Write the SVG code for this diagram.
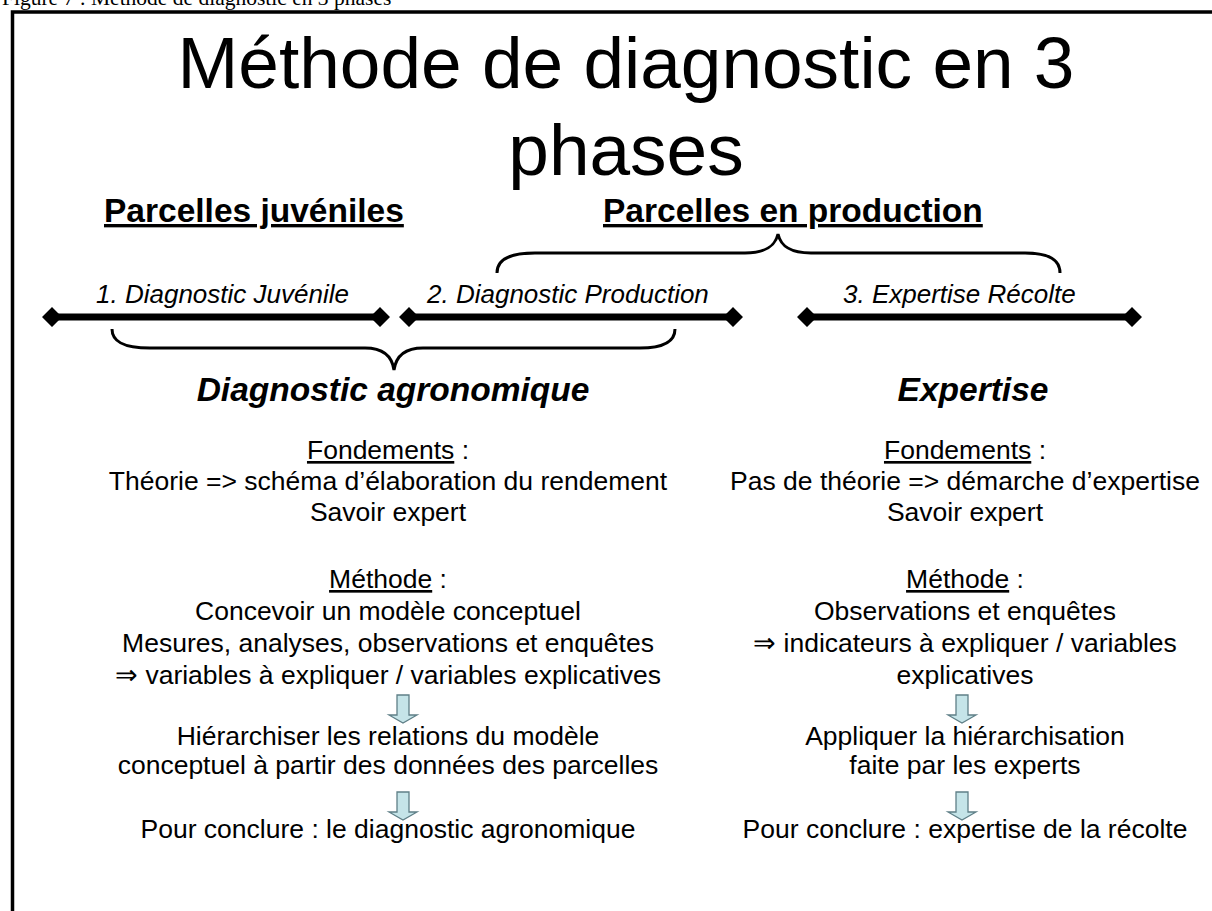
<svg xmlns="http://www.w3.org/2000/svg" width="1212" height="911" viewBox="0 0 1212 911">
<style>
text{font-family:"Liberation Sans",Arial,sans-serif;fill:#000}
.cap{font-family:"Liberation Serif","Times New Roman",serif;font-size:21.5px}
.title{font-size:73px;text-anchor:middle}
.sub{font-size:33.5px;font-weight:bold;text-decoration:underline}
.lab{font-size:26px;font-style:italic}
.big{font-size:33.5px;font-weight:bold;font-style:italic;text-anchor:middle}
.body{font-size:26.5px;text-anchor:middle}
.u{text-decoration:underline}
.brace{fill:none;stroke:#000;stroke-width:3}
.bar{stroke:#000;stroke-width:7}
.dia{fill:#000}
.arr{fill:#c5e4e8;stroke:#5f7f87;stroke-width:1.3}
</style>
<rect width="1212" height="911" fill="#fff"/>
<text class="cap" x="2" y="5">Figure 7 : Méthode de diagnostic en 3 phases</text>
<g id="frame"><path d="M12.5 911 V12 H1212" fill="none" stroke="#000" stroke-width="3.5"/></g>
<g id="title">
<text class="title" x="626" y="88">Méthode de diagnostic en 3</text>
<text class="title" x="626" y="175">phases</text>
</g>
<g id="head-juveniles"><text class="sub" x="104" y="222">Parcelles juvéniles</text></g>
<g id="head-production"><text class="sub" x="603" y="222">Parcelles en production</text></g>
<g id="connectors">
<path class="brace" d="M497 273 C497 260 508 253 535 253 L745 253 C765 253 775 247 778 234 C781 247 791 253 811 253 L1025 253 C1050 253 1060 260 1060 273"/>
<path class="brace" d="M112 329 C112 341 122 348 150 348 L365 348 C383 348 392 356 394 370 C396 356 405 348 423 348 L640 348 C665 348 675 341 675 329"/>
<line class="bar" x1="52" y1="317" x2="380" y2="317"/>
<path class="dia" d="M42 317 L52 307 L62 317 L52 327 Z M370 317 L380 307 L390 317 L380 327 Z"/>
<line class="bar" x1="409" y1="317" x2="733" y2="317"/>
<path class="dia" d="M399 317 L409 307 L419 317 L409 327 Z M723 317 L733 307 L743 317 L733 327 Z"/>
<line class="bar" x1="807" y1="317" x2="1132" y2="317"/>
<path class="dia" d="M797 317 L807 307 L817 317 L807 327 Z M1122 317 L1132 307 L1142 317 L1132 327 Z"/>
<path class="arr" d="M397 695 H409 V715 H417 L403 723 L389 715 H397 Z"/>
<path class="arr" d="M397 792 H409 V812 H417 L403 820 L389 812 H397 Z"/>
<path class="arr" d="M956 695 H968 V715 H976 L962 723 L948 715 H956 Z"/>
<path class="arr" d="M956 792 H968 V812 H976 L962 820 L948 812 H956 Z"/>
</g>
<g id="phase1"><text class="lab" x="96" y="303">1. Diagnostic Juvénile</text></g>
<g id="phase2"><text class="lab" x="427" y="303">2. Diagnostic Production</text></g>
<g id="phase3"><text class="lab" x="843" y="303">3. Expertise Récolte</text></g>
<g id="diag-agro">
<text class="big" x="393" y="401">Diagnostic agronomique</text>
<text class="body" x="388" y="459"><tspan class="u">Fondements</tspan> :</text>
<text class="body" x="388" y="490">Théorie =&gt; schéma d’élaboration du rendement</text>
<text class="body" x="388" y="521">Savoir expert</text>
<text class="body" x="388" y="588"><tspan class="u">Méthode</tspan> :</text>
<text class="body" x="388" y="620">Concevoir un modèle conceptuel</text>
<text class="body" x="388" y="652">Mesures, analyses, observations et enquêtes</text>
<text class="body" x="388" y="684">⇒ variables à expliquer / variables explicatives</text>
<text class="body" x="388" y="745">Hiérarchiser les relations du modèle</text>
<text class="body" x="388" y="774">conceptuel à partir des données des parcelles</text>
<text class="body" x="388" y="838">Pour conclure : le diagnostic agronomique</text>
</g>
<g id="expertise">
<text class="big" x="973" y="401">Expertise</text>
<text class="body" x="965" y="459"><tspan class="u">Fondements</tspan> :</text>
<text class="body" x="965" y="490">Pas de théorie =&gt; démarche d’expertise</text>
<text class="body" x="965" y="521">Savoir expert</text>
<text class="body" x="965" y="588"><tspan class="u">Méthode</tspan> :</text>
<text class="body" x="965" y="620">Observations et enquêtes</text>
<text class="body" x="965" y="652">⇒ indicateurs à expliquer / variables</text>
<text class="body" x="965" y="684">explicatives</text>
<text class="body" x="965" y="745">Appliquer la hiérarchisation</text>
<text class="body" x="965" y="774">faite par les experts</text>
<text class="body" x="965" y="838">Pour conclure : expertise de la récolte</text>
</g>
</svg>
